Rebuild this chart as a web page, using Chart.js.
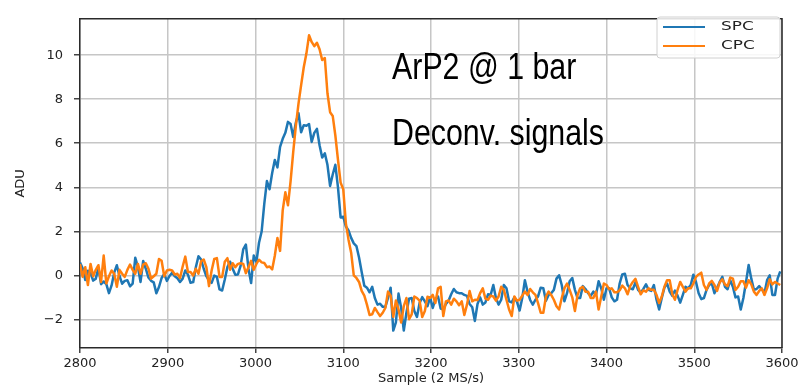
<!DOCTYPE html>
<html>
<head>
<meta charset="utf-8">
<script src="https://cdn.jsdelivr.net/npm/chart.js@4.4.1/dist/chart.umd.min.js"></script>
<style>
  html, body { margin: 0; padding: 0; background: #ffffff; }
  #wrap { width: 805px; height: 387px; }
</style>
</head>
<body>
<div id="wrap"><canvas id="c" width="805" height="387"></canvas></div>
<script>
// Deconvolved waveforms, one value every 3 samples from sample 2800 onward.
const sampleStart = 2800;
const sampleStep = 3;

const spcValues = [
  0.58, 0.32, -0.21, 0.21, 0.10, -0.24, -0.15, 0.34, -0.40, -0.28,
  -0.40, -0.81, -0.46, 0.12, 0.46, -0.03, -0.38, -0.25, -0.22, -0.50,
  -0.38, 0.80, 0.38, -0.30, 0.65, 0.30, -0.10, -0.25, -0.32, -0.81,
  -0.53, -0.12, 0.06, -0.25, -0.03, 0.12, -0.04, -0.13, -0.30, -0.15,
  0.22, 0.03, -0.34, -0.31, 0.37, 0.87, 0.72, 0.30, -0.04, -0.24,
  -0.34, -0.01, -0.07, -0.64, -0.69, -0.19, 0.38, 0.62, 0.30, 0.03,
  0.04, 0.43, 1.18, 1.40, 0.30, -0.35, 0.90, 0.60,
  1.48, 1.99, 3.25, 4.28, 3.91, 4.65, 5.24, 4.90, 5.83, 6.20,
  6.47, 6.97, 6.87, 6.28, 6.94, 7.36, 6.50, 6.82, 6.79, 6.87,
  6.06, 6.47, 6.65, 5.91, 5.35, 5.54, 5.02, 4.06, 4.58, 5.02,
  3.99, 2.63, 2.66, 2.22, 2.04, 1.70, 1.45, 1.33, 0.81, 0.15,
  -0.47, -0.56,
  -0.77, -0.52, -1.03, -1.33, -1.29, -1.43, -1.43, -1.03, -0.56, -2.51,
  -2.14, -0.83, -1.48, -2.51, -1.70, -1.06, -1.03, -1.62, -1.89, -1.26,
  -0.99, -1.18, -1.40, -1.00, -1.48, -1.08, -0.96, -1.51, -1.55, -1.30,
  -1.15, -0.86, -0.62, -0.77, -0.81, -0.81, -0.89, -0.93, -1.30, -1.45,
  -2.07, -1.30, -1.00, -1.33, -1.23, -0.86, -0.89, -0.44, -1.03, -1.33,
  -1.11, -0.44, -0.59, -1.18, -1.23, -1.00, -1.21, -1.60, -1.03, -0.22,
  -0.74, -1.12, -1.33, -1.11, -0.96, -0.56, -0.59, -1.15, -0.89, -0.81,
  -0.66, -0.15, 0.00,
  -0.44, -1.18, -0.81, -0.27, -0.12, -0.66, -1.03, -1.03, -0.49, -0.62,
  -0.81, -0.93, -0.74, -0.89, -0.27, -0.59, -1.11, -0.59, -0.59, -1.00,
  -1.18, -1.11, -0.37, 0.04, 0.07, -0.44, -0.59, -0.63, -0.32, -0.66,
  -0.78, -0.62, -0.41, -0.66, -0.71, -0.44, -1.11, -1.55, -1.03, -0.56,
  -0.37, -0.74, -0.93, -0.69, -0.92, -1.24, -0.89, -0.52, -0.59, -0.44,
  0.03, -0.30, -0.81, -1.08, -1.03, -0.66, -0.44, -0.37, -0.81, -0.56,
  -0.30, -0.07, -0.52, -0.63, -0.22, -0.52, -1.00, -0.96, -1.55, -1.03,
  -0.30, 0.47, -0.15, -0.66, -0.62, -0.49, -0.63, -0.81, -0.22, 0.00,
  -0.89, -0.89, -0.15, 0.18
];

const cpcValues = [
  0.52, -0.07, 0.37, -0.44, 0.52, -0.04, 0.25, 0.46, -0.30, 0.90,
  -0.37, -0.04, 0.22, 0.07, -0.52, 0.25, 0.07, -0.07, 0.25, 0.49,
  0.25, 0.07, 0.52, 0.07, 0.49, 0.55, 0.30, -0.15, -0.04, 0.07,
  0.74, 0.66, -0.04, 0.22, 0.25, 0.22, 0.04, 0.07, -0.12, 0.40,
  0.85, 0.15, 0.15, -0.01, 0.30, 0.07, 0.64, 0.72, 0.37, -0.49,
  0.22, 0.74, 0.78, -0.07, -0.07, 0.62, 0.78, 0.25, 0.55, 0.37,
  0.52, 0.55, 0.52, 0.10, 0.37, 0.66, 0.25, 0.52,
  0.71, 0.59, 0.56, 0.37, 0.40, 0.27, 0.89, 1.70, 1.11, 2.95,
  3.77, 3.18, 4.28, 5.61, 6.79, 7.80, 8.64, 9.45, 10.07, 10.90,
  10.60, 10.41, 10.56, 10.27, 9.78, 9.87, 8.27, 7.41, 7.24, 6.35,
  5.24, 4.21, 3.91, 2.36, 1.62, 1.03, 0.00, -0.12, -0.30, -0.71,
  -0.92, -1.33,
  -1.80, -1.77, -1.48, -1.67, -1.85, -1.70, -1.48, -0.74, -0.92, -1.89,
  -1.14, -1.55, -2.14, -1.40, -1.03, -1.99, -1.77, -0.96, -1.03, -1.15,
  -1.89, -1.62, -0.97, -1.03, -0.89, -1.26, -0.59, -0.52, -1.85, -1.18,
  -1.14, -1.33, -1.06, -1.18, -1.36, -1.18, -1.80, -1.33, -0.71, -1.18,
  -1.11, -1.12, -0.81, -0.59, -1.06, -1.11, -0.92, -0.96, -1.15, -0.96,
  -0.52, -0.66, -1.11, -1.55, -1.85, -0.96, -1.15, -1.11, -0.92, -0.74,
  -0.89, -0.62, -0.77, -0.89, -1.26, -1.70, -1.70, -0.96, -0.74, -0.89,
  -1.11, -1.40, -1.55,
  -1.03, -0.59, -0.37, -0.66, -1.00, -1.62, -0.89, -0.59, -0.52, -0.74,
  -0.74, -1.03, -1.03, -0.74, -1.55, -0.96, -0.37, -0.44, -0.63, -0.59,
  -0.77, -0.77, -0.68, -0.47, -0.59, -0.86, -0.49, -0.30, -0.16, -0.52,
  -0.86, -0.68, -0.74, -0.59, -0.66, -0.66, -0.89, -1.26, -0.96, -0.52,
  -0.22, -0.22, -0.86, -1.11, -0.66, -0.30, -0.52, -0.74, -0.59, -0.59,
  -0.37, -0.07, 0.04, 0.12, -0.44, -0.66, -0.37, -0.25, -0.44, -0.71,
  -0.32, -0.18, -0.41, -0.49, -0.10, -0.15, -0.66, -0.52, -0.27, -0.27,
  -0.56, -0.22, -0.41, -0.74, -0.89, -0.71, -0.59, -0.89, -0.59, -0.18,
  -0.41, -0.30, -0.37, -0.44
];

const seriesNames = ['SPC', 'CPC'];
const seriesColors = ['#1f77b4', '#ff7f0e'];

const xTickValues = [2800, 2900, 3000, 3100, 3200, 3300, 3400, 3500, 3600];
const yTickValues = [-2, 0, 2, 4, 6, 8, 10];
const xRange = [2800, 3600];
const yRange = [-3.3, 11.65];

const xTitle = 'Sample (2 MS/s)';
const yTitle = 'ADU';

// Text notes placed in data coordinates (sample, ADU baseline).
const noteTexts = ['ArP2 @ 1 bar', 'Deconv. signals'];
const noteX = [3155.6, 3155.6];
const noteY = [8.91, 5.90];

function toPoints(values) {
  return values.map((v, i) => ({ x: sampleStart + i * sampleStep, y: v }));
}

const tickFont = { family: 'DejaVu Sans', size: 13 };
const gridColor = '#c6c6c6';
const spineColor = '#2a2a2a';

const framePlugin = {
  id: 'frameAndNotes',
  afterDraw(chart) {
    const { ctx, chartArea: a, scales } = chart;
    ctx.save();
    // top and right spines
    ctx.strokeStyle = spineColor;
    ctx.lineWidth = 1.5;
    ctx.beginPath();
    ctx.moveTo(a.left, a.top);
    ctx.lineTo(a.right, a.top);
    ctx.lineTo(a.right, a.bottom);
    ctx.stroke();

    // notes, in a condensed sans face
    ctx.fillStyle = '#000000';
    ctx.font = '37px "Liberation Sans", Arial, sans-serif';
    ctx.textAlign = 'left';
    ctx.textBaseline = 'alphabetic';
    noteTexts.forEach((t, i) => {
      ctx.save();
      ctx.translate(scales.x.getPixelForValue(noteX[i]), scales.y.getPixelForValue(noteY[i]));
      ctx.scale(0.82, 1);
      ctx.fillText(t, 0, 0);
      ctx.restore();
    });

    // legend box
    const bx = 657, by = 17, bw = 123, bh = 41, r = 3;
    ctx.beginPath();
    ctx.moveTo(bx + r, by);
    ctx.lineTo(bx + bw - r, by);
    ctx.arcTo(bx + bw, by, bx + bw, by + r, r);
    ctx.lineTo(bx + bw, by + bh - r);
    ctx.arcTo(bx + bw, by + bh, bx + bw - r, by + bh, r);
    ctx.lineTo(bx + r, by + bh);
    ctx.arcTo(bx, by + bh, bx, by + bh - r, r);
    ctx.lineTo(bx, by + r);
    ctx.arcTo(bx, by, bx + r, by, r);
    ctx.closePath();
    ctx.fillStyle = 'rgba(255,255,255,0.85)';
    ctx.fill();
    ctx.strokeStyle = '#d0d0d0';
    ctx.lineWidth = 1;
    ctx.stroke();

    ctx.font = '13px "DejaVu Sans"';
    ctx.textBaseline = 'middle';
    seriesNames.forEach((name, i) => {
      const ly = by + 10 + i * 19;
      ctx.strokeStyle = seriesColors[i];
      ctx.lineWidth = 2;
      ctx.beginPath();
      ctx.moveTo(bx + 6, ly);
      ctx.lineTo(bx + 48, ly);
      ctx.stroke();
      ctx.fillStyle = '#222222';
      ctx.save();
      ctx.translate(bx + 64, ly);
      ctx.scale(1.3, 1);
      ctx.fillText(name, 0, 0);
      ctx.restore();
    });
    ctx.restore();
  }
};

const minusFmt = v => String(v).replace('-', '\u2212');

new Chart(document.getElementById('c'), {
  type: 'line',
  data: {
    datasets: [
      {
        label: seriesNames[0],
        data: toPoints(spcValues),
        borderColor: seriesColors[0],
        borderWidth: 2.5,
        pointRadius: 0,
        tension: 0,
        borderJoinStyle: 'round',
        order: 2
      },
      {
        label: seriesNames[1],
        data: toPoints(cpcValues),
        borderColor: seriesColors[1],
        borderWidth: 2.5,
        pointRadius: 0,
        tension: 0,
        borderJoinStyle: 'round',
        order: 1
      }
    ]
  },
  options: {
    responsive: false,
    animation: false,
    devicePixelRatio: 1,
    layout: { padding: { top: 10, right: 23, left: 0, bottom: 0 } },
    plugins: { legend: { display: false }, tooltip: { enabled: false } },
    scales: {
      x: {
        type: 'linear',
        min: xRange[0],
        max: xRange[1],
        afterBuildTicks: s => { s.ticks = xTickValues.map(v => ({ value: v })); },
        afterFit: s => { s.height = 39; },
        ticks: { font: tickFont, color: '#222222', padding: 3, maxRotation: 0, callback: minusFmt },
        grid: { color: gridColor, lineWidth: 1.5, drawTicks: true, tickLength: 5, tickColor: '#444444' },
        border: { display: true, color: spineColor, width: 1.5 },
        title: { display: true, text: xTitle, font: tickFont, color: '#222222', padding: { top: 0, bottom: 1 } }
      },
      y: {
        type: 'linear',
        min: yRange[0],
        max: yRange[1],
        afterBuildTicks: s => { s.ticks = yTickValues.map(v => ({ value: v })); },
        afterFit: s => { s.width = 80; },
        ticks: { font: tickFont, color: '#222222', padding: 11, callback: minusFmt },
        grid: { color: gridColor, lineWidth: 1.5, drawTicks: true, tickLength: 6, tickColor: '#444444' },
        border: { display: true, color: spineColor, width: 1.5 },
        title: { display: true, text: yTitle, font: tickFont, color: '#222222', padding: { top: 13, bottom: 0 } }
      }
    }
  },
  plugins: [framePlugin]
});
</script>
</body>
</html>
